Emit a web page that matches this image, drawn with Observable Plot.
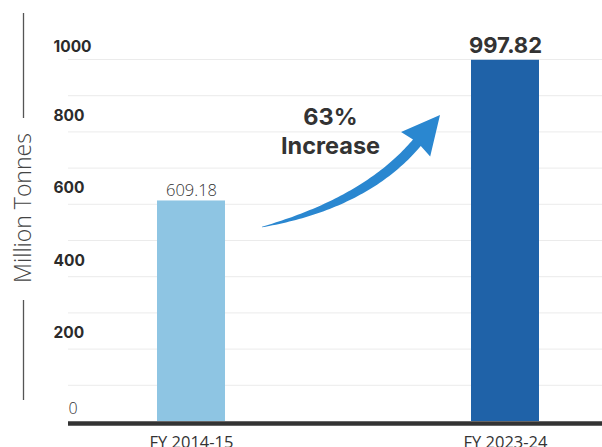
<!DOCTYPE html>
<html><head><meta charset="utf-8">
<script src="https://cdn.jsdelivr.net/npm/d3@7"></script>
<script src="https://cdn.jsdelivr.net/npm/@observablehq/plot@0.6"></script>
<style>
html,body{margin:0;padding:0;background:#fff;overflow:hidden}
</style>
</head><body><div id="chart"></div>
<script>
// ---- data ----
const years = ["FY 2014-15", "FY 2023-24"];
const production = [609.18, 997.82];
const valueLabels = ["609.18", "997.82"];
const barColors = ["#8ec5e3", "#1f62a8"];
const gridValues = [100, 200, 300, 400, 500, 600, 700, 800, 900, 1000];
const tickValues = [200, 400, 600, 800];
const topTick = [1000];
const zeroTick = [0];
const yTitle = "Million Tonnes";
const changeLabel = "63%\nIncrease";
// annotation anchors (in data units)
const changeLabelValue = 804;
const arrowFromValue = 536;
const arrowToValue = 845;

const rows = years.map((y, i) => ({year: y, value: production[i], color: barColors[i], label: valueLabels[i]}));

const W = 602, H = 447, ML = 68;

function yTitleLines(index, scales, values, dims) {
  const x = dims.marginLeft - 44.5;
  const mid = (dims.marginTop + (dims.height - dims.marginBottom)) / 2 - 32.5;
  const g = d3.create("svg:g").attr("stroke", "#555").attr("stroke-width", 1.3);
  g.append("line").attr("x1", x).attr("x2", x).attr("y1", mid - 194.5).attr("y2", mid - 89.5);
  g.append("line").attr("x1", x).attr("x2", x).attr("y1", mid + 92.5).attr("y2", mid + 192.5);
  return g.node();
}

function arrowMark(index, scales, values, dims) {
  const X = scales.x, Y = scales.y;
  const bw = X.bandwidth ? X.bandwidth() : 68;
  const T = [X(years[0]) + bw + 37, Y(arrowFromValue)];
  const tip = [X(years[1]) - 31, Y(arrowToValue)];
  const ang = Math.atan2(-27.5, 23);
  const d = [Math.cos(ang), Math.sin(ang)];
  const headLen = 36, headHalf = 19;
  const B = [tip[0] - d[0] * headLen, tip[1] - d[1] * headLen];
  const C = [T[0] + 104, T[1] - 24];
  const N = 60, L = [], R = [];
  for (let i = 0; i <= N; i++) {
    const t = i / N, u = 1 - t;
    const p = [u*u*T[0] + 2*u*t*C[0] + t*t*B[0], u*u*T[1] + 2*u*t*C[1] + t*t*B[1]];
    let dx = 2*u*(C[0]-T[0]) + 2*t*(B[0]-C[0]);
    let dy = 2*u*(C[1]-T[1]) + 2*t*(B[1]-C[1]);
    const len = Math.hypot(dx, dy); dx /= len; dy /= len;
    const n = [-dy, dx];
    const h = 0.3 + 4.8 * (1 - Math.pow(u, 2.5));
    L.push([p[0] + n[0]*h, p[1] + n[1]*h]);
    R.push([p[0] - n[0]*h, p[1] - n[1]*h]);
  }
  const n = [-d[1], d[0]];
  const back = 2;
  const c1 = [B[0] + n[0]*headHalf - d[0]*back, B[1] + n[1]*headHalf - d[1]*back];
  const c2 = [B[0] - n[0]*headHalf - d[0]*back, B[1] - n[1]*headHalf - d[1]*back];
  const pts = [...L, c1, tip, c2, ...R.reverse()];
  const path = "M" + pts.map(p => p[0].toFixed(2) + "," + p[1].toFixed(2)).join("L") + "Z";
  const g = d3.create("svg:g");
  g.append("path").attr("d", path).attr("fill", "#2a87d0");
  return g.node();
}

const tickStyle = {frameAnchor: "left", dx: -15, textAnchor: "start",
  fontFamily: "Inter, sans-serif", fontWeight: 700, fontSize: 15.5, fill: "#2b2b2b"};

const chart = Plot.plot({
  width: W,
  height: H,
  marginLeft: ML,
  marginRight: 0,
  marginTop: 59,
  marginBottom: 26,
  style: {fontFamily: "'Open Sans', sans-serif", fontSize: "16.5px", color: "#333", background: "#fff"},
  x: {domain: years, paddingInner: 0.7834, paddingOuter: 0.242, align: 0.585, tickSize: 0, tickPadding: 15, label: null},
  y: {domain: [0, 1000], axis: null},
  color: {type: "identity"},
  marks: [
    Plot.ruleY(gridValues, {stroke: "#ebebeb", strokeWidth: 1}),
    Plot.barY(rows, {x: "year", y: "value", fill: "color"}),
    Plot.ruleY(zeroTick, {stroke: "#333", strokeWidth: 4.5, dy: 2}),
    Plot.text(tickValues, {y: d => d, text: d => String(d), dy: -16, ...tickStyle}),
    Plot.text(topTick, {y: d => d, text: d => String(d), dy: -12, ...tickStyle}),
    Plot.text(zeroTick, {y: d => d, text: d => String(d), frameAnchor: "left", dx: 0, dy: -13, textAnchor: "start",
      fontFamily: "'Open Sans', sans-serif", fontWeight: 300, fontSize: 16, fill: "#333"}),
    Plot.text(rows.filter((d, i) => i === 0), {x: "year", y: "value", text: "label", lineAnchor: "bottom", dy: -5,
      fontFamily: "'Open Sans', sans-serif", fontWeight: 300, fontSize: 16.5, fill: "#333"}),
    Plot.text(rows.filter((d, i) => i === 1), {x: "year", y: "value", text: "label", lineAnchor: "bottom", dy: -7,
      fontFamily: "Inter, sans-serif", fontWeight: 700, fontSize: 22, fill: "#333"}),
    Plot.text([changeLabel], {x: () => years[0], y: () => changeLabelValue, text: d => d, dx: 139, lineHeight: 1.2,
      fontFamily: "Inter, sans-serif", fontWeight: 700, fontSize: 23.5, fill: "#333"}),
    Plot.text([yTitle], {frameAnchor: "left", text: d => d, rotate: -90, textAnchor: "middle", dx: -45, dy: -32.5,
      fontFamily: "'Open Sans', sans-serif", fontWeight: 300, fontSize: 23, fill: "#444"}),
    yTitleLines,
    arrowMark
  ]
});
document.getElementById("chart").appendChild(chart);
</script>
</body></html>
